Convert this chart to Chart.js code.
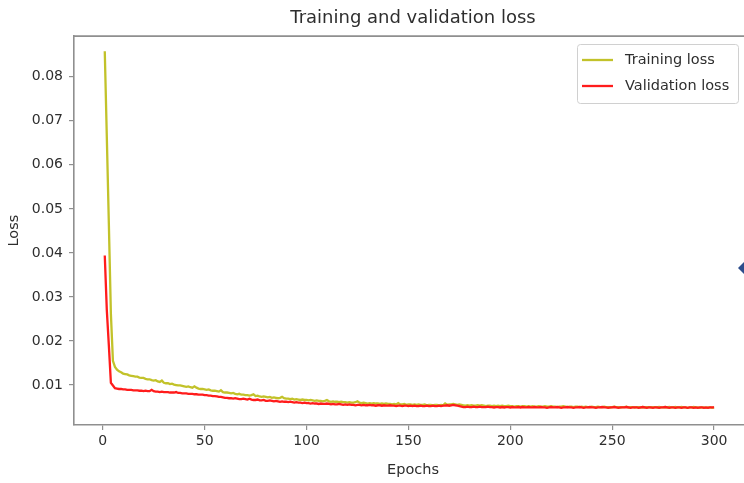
<!DOCTYPE html>
<html>
<head>
<meta charset="utf-8">
<script src="https://cdn.jsdelivr.net/npm/chart.js@4.4.1/dist/chart.umd.min.js"></script>
<style>
  html, body { margin: 0; padding: 0; background: #fff; overflow: hidden; }
  canvas { display: block; }
</style>
</head>
<body>
<canvas id="lossChart" width="760" height="483"></canvas>
<script>
// Số epoch (trục x)
const epochs = Array.from({ length: 300 }, (_, i) => i + 1);

// Training loss (epoch 1..300)
const trainLoss = [
  0.0858, 0.0664, 0.0467, 0.0262, 0.0155, 0.0141, 0.0135, 0.0131, 0.0129, 0.0126,
  0.0125, 0.0124, 0.0122, 0.0121, 0.0120, 0.0119, 0.0119, 0.0117, 0.0116, 0.0116,
  0.0114, 0.0113, 0.0113, 0.0111, 0.0110, 0.0111, 0.0108, 0.0107, 0.0110, 0.0105,
  0.0104, 0.0104, 0.0102, 0.0103, 0.0101, 0.0100, 0.0099, 0.0099, 0.0098, 0.0097,
  0.0096, 0.0097, 0.0095, 0.0094, 0.0097, 0.0094, 0.0092, 0.0091, 0.0091, 0.0090,
  0.0089, 0.0090, 0.0088, 0.0087, 0.0087, 0.0086, 0.0085, 0.0088, 0.0084, 0.0083,
  0.0083, 0.0082, 0.0081, 0.0082, 0.0080, 0.0079, 0.0080, 0.0078, 0.0078, 0.0077,
  0.0077, 0.0076, 0.0077, 0.0079, 0.0075, 0.0076, 0.0074, 0.0073, 0.0074, 0.0073,
  0.0072, 0.0073, 0.0071, 0.0072, 0.0071, 0.0070, 0.0071, 0.0073, 0.0070, 0.0069,
  0.0069, 0.0068, 0.0069, 0.0067, 0.0068, 0.0067, 0.0066, 0.0067, 0.0066, 0.0066,
  0.0065, 0.0066, 0.0065, 0.0064, 0.0065, 0.0064, 0.0064, 0.0063, 0.0064, 0.0066,
  0.0063, 0.0062, 0.0063, 0.0062, 0.0062, 0.0061, 0.0062, 0.0061, 0.0061, 0.0060,
  0.0061, 0.0060, 0.0060, 0.0061, 0.0063, 0.0060, 0.0059, 0.0060, 0.0059, 0.0058,
  0.0059, 0.0058, 0.0059, 0.0058, 0.0058, 0.0057, 0.0058, 0.0057, 0.0058, 0.0057,
  0.0057, 0.0056, 0.0057, 0.0056, 0.0059, 0.0056, 0.0056, 0.0057, 0.0055, 0.0056,
  0.0056, 0.0055, 0.0056, 0.0055, 0.0056, 0.0055, 0.0055, 0.0056, 0.0054, 0.0055,
  0.0055, 0.0054, 0.0055, 0.0055, 0.0054, 0.0055, 0.0054, 0.0058, 0.0055, 0.0056,
  0.0056, 0.0057, 0.0056, 0.0055, 0.0056, 0.0055, 0.0054, 0.0053, 0.0054, 0.0053,
  0.0054, 0.0053, 0.0053, 0.0054, 0.0053, 0.0054, 0.0053, 0.0052, 0.0053, 0.0053,
  0.0052, 0.0053, 0.0052, 0.0053, 0.0052, 0.0053, 0.0052, 0.0052, 0.0053, 0.0052,
  0.0052, 0.0051, 0.0052, 0.0052, 0.0051, 0.0052, 0.0052, 0.0051, 0.0052, 0.0051,
  0.0052, 0.0051, 0.0051, 0.0052, 0.0051, 0.0051, 0.0052, 0.0051, 0.0051, 0.0052,
  0.0051, 0.0051, 0.0050, 0.0051, 0.0051, 0.0052, 0.0051, 0.0050, 0.0051, 0.0051,
  0.0050, 0.0051, 0.0051, 0.0050, 0.0051, 0.0050, 0.0051, 0.0050, 0.0050, 0.0051,
  0.0050, 0.0050, 0.0051, 0.0050, 0.0050, 0.0051, 0.0050, 0.0050, 0.0049, 0.0050,
  0.0051, 0.0050, 0.0050, 0.0049, 0.0050, 0.0050, 0.0051, 0.0049, 0.0050, 0.0050,
  0.0049, 0.0050, 0.0050, 0.0049, 0.0050, 0.0049, 0.0050, 0.0050, 0.0049, 0.0050,
  0.0050, 0.0049, 0.0050, 0.0049, 0.0049, 0.0050, 0.0049, 0.0050, 0.0049, 0.0049,
  0.0050, 0.0049, 0.0049, 0.0050, 0.0049, 0.0049, 0.0048, 0.0049, 0.0049, 0.0050,
  0.0049, 0.0049, 0.0048, 0.0049, 0.0049, 0.0048, 0.0049, 0.0049, 0.0048, 0.0049
];

// Validation loss (epoch 1..300)
const valLoss = [
  0.0394, 0.0270, 0.0190, 0.0105, 0.0099, 0.0093, 0.0092, 0.0091, 0.0091, 0.0090,
  0.0090, 0.0089, 0.0089, 0.0089, 0.0088, 0.0088, 0.0088, 0.0087, 0.0087, 0.0086,
  0.0087, 0.0086, 0.0086, 0.0089, 0.0086, 0.0085, 0.0085, 0.0084, 0.0085, 0.0084,
  0.0084, 0.0084, 0.0083, 0.0083, 0.0083, 0.0084, 0.0082, 0.0082, 0.0081, 0.0081,
  0.0081, 0.0080, 0.0080, 0.0080, 0.0079, 0.0079, 0.0078, 0.0078, 0.0078, 0.0077,
  0.0077, 0.0076, 0.0076, 0.0075, 0.0075, 0.0074, 0.0073, 0.0073, 0.0072, 0.0071,
  0.0071, 0.0070, 0.0070, 0.0069, 0.0070, 0.0069, 0.0068, 0.0068, 0.0069, 0.0068,
  0.0067, 0.0069, 0.0067, 0.0066, 0.0066, 0.0067, 0.0065, 0.0065, 0.0066, 0.0064,
  0.0064, 0.0065, 0.0064, 0.0063, 0.0064, 0.0063, 0.0062, 0.0063, 0.0062, 0.0062,
  0.0061, 0.0062, 0.0061, 0.0060, 0.0061, 0.0060, 0.0060, 0.0059, 0.0060, 0.0059,
  0.0059, 0.0058, 0.0059, 0.0058, 0.0058, 0.0057, 0.0058, 0.0057, 0.0057, 0.0058,
  0.0057, 0.0056, 0.0057, 0.0056, 0.0056, 0.0057, 0.0056, 0.0055, 0.0056, 0.0055,
  0.0056, 0.0055, 0.0055, 0.0054, 0.0055, 0.0055, 0.0054, 0.0055, 0.0054, 0.0054,
  0.0055, 0.0054, 0.0054, 0.0053, 0.0054, 0.0054, 0.0053, 0.0054, 0.0053, 0.0053,
  0.0054, 0.0053, 0.0053, 0.0052, 0.0053, 0.0053, 0.0052, 0.0053, 0.0053, 0.0052,
  0.0053, 0.0052, 0.0053, 0.0052, 0.0052, 0.0053, 0.0052, 0.0052, 0.0053, 0.0052,
  0.0052, 0.0053, 0.0052, 0.0052, 0.0053, 0.0052, 0.0053, 0.0053, 0.0054, 0.0053,
  0.0054, 0.0055, 0.0054, 0.0053, 0.0052, 0.0051, 0.0050, 0.0050, 0.0051, 0.0050,
  0.0050, 0.0051, 0.0050, 0.0050, 0.0051, 0.0050, 0.0050, 0.0050, 0.0051, 0.0050,
  0.0050, 0.0049, 0.0050, 0.0050, 0.0049, 0.0050, 0.0049, 0.0050, 0.0050, 0.0049,
  0.0050, 0.0049, 0.0049, 0.0050, 0.0049, 0.0050, 0.0049, 0.0049, 0.0050, 0.0049,
  0.0049, 0.0050, 0.0049, 0.0049, 0.0050, 0.0049, 0.0049, 0.0048, 0.0049, 0.0050,
  0.0049, 0.0049, 0.0050, 0.0049, 0.0048, 0.0049, 0.0049, 0.0050, 0.0049, 0.0049,
  0.0048, 0.0049, 0.0049, 0.0050, 0.0049, 0.0048, 0.0049, 0.0049, 0.0050, 0.0049,
  0.0049, 0.0048, 0.0049, 0.0049, 0.0050, 0.0049, 0.0049, 0.0048, 0.0049, 0.0049,
  0.0050, 0.0049, 0.0048, 0.0049, 0.0049, 0.0049, 0.0050, 0.0049, 0.0048, 0.0049,
  0.0049, 0.0049, 0.0048, 0.0049, 0.0050, 0.0049, 0.0048, 0.0049, 0.0049, 0.0048,
  0.0049, 0.0049, 0.0048, 0.0049, 0.0049, 0.0050, 0.0049, 0.0048, 0.0049, 0.0049,
  0.0048, 0.0049, 0.0049, 0.0048, 0.0049, 0.0049, 0.0048, 0.0049, 0.0049, 0.0048,
  0.0049, 0.0048, 0.0049, 0.0049, 0.0048, 0.0049, 0.0048, 0.0049, 0.0049, 0.0049
];

// Nhãn trên các trục
const xTickValues = [0, 50, 100, 150, 200, 250, 300];
const yTickValues = [0.01, 0.02, 0.03, 0.04, 0.05, 0.06, 0.07, 0.08];
const seriesNames = ['Training loss', 'Validation loss'];
const seriesColors = ['#c2c22a', '#ff1c1c'];

const FONT = 'DejaVu Sans';
const FRAME = '#8f8f8f';
const TEXT = '#2e2e2e';

// Viền trên + phải của khung đồ thị, chú thích và dấu thoi xanh ở mép phải
const framePlugin = {
    id: 'frame',
    afterDraw(chart) {
        const { ctx, chartArea: a } = chart;
        ctx.save();
        ctx.strokeStyle = FRAME;
        ctx.lineWidth = 1.6;
        ctx.beginPath();
        ctx.moveTo(a.left, a.top);
        ctx.lineTo(a.right, a.top);
        ctx.lineTo(a.right, a.bottom);
        ctx.stroke();

        // khung chú thích
        const bx = 577, by = 44, bw = 161, bh = 59;
        ctx.fillStyle = 'rgba(255,255,255,0.85)';
        ctx.strokeStyle = '#d0d0d0';
        ctx.lineWidth = 1;
        ctx.beginPath();
        ctx.roundRect(bx + 0.5, by + 0.5, bw, bh, 3);
        ctx.fill();
        ctx.stroke();

        ctx.font = '14.5px "' + FONT + '"';
        ctx.textBaseline = 'middle';
        ctx.textAlign = 'left';
        seriesNames.forEach((name, i) => {
            const y = by + 16 + i * 26;
            ctx.strokeStyle = seriesColors[i];
            ctx.lineWidth = 2.3;
            ctx.beginPath();
            ctx.moveTo(bx + 5, y);
            ctx.lineTo(bx + 36, y);
            ctx.stroke();
            ctx.fillStyle = TEXT;
            ctx.fillText(name, bx + 48, y);
        });

        // dấu thoi bị cắt ở mép ảnh
        ctx.fillStyle = '#2d4d8c';
        ctx.beginPath();
        ctx.moveTo(738, 268);
        ctx.lineTo(746, 260);
        ctx.lineTo(754, 268);
        ctx.lineTo(746, 276);
        ctx.closePath();
        ctx.fill();
        ctx.restore();
    }
};

const ctx = document.getElementById('lossChart').getContext('2d');

new Chart(ctx, {
    type: 'line',
    data: {
        datasets: [
            {
                label: seriesNames[0],
                data: trainLoss.map((v, i) => ({ x: epochs[i], y: v })),
                borderColor: seriesColors[0],
                borderWidth: 2.3,
                pointRadius: 0,
                tension: 0,
                order: 1
            },
            {
                label: seriesNames[1],
                data: valLoss.map((v, i) => ({ x: epochs[i], y: v })),
                borderColor: seriesColors[1],
                borderWidth: 2.3,
                pointRadius: 0,
                tension: 0,
                order: 0
            }
        ]
    },
    options: {
        responsive: false,
        animation: false,
        events: [],
        layout: { padding: { left: 0, right: 8, top: 0, bottom: 0 } },
        plugins: {
            legend: { display: false },
            tooltip: { enabled: false },
            title: {
                display: true,
                text: 'Training and validation loss',
                fullSize: false,
                color: TEXT,
                font: { family: FONT, size: 18, weight: 'normal', lineHeight: 1.2 },
                padding: { top: 7.5, bottom: 7 }
            }
        },
        scales: {
            x: {
                type: 'linear',
                min: -14.1,
                max: 318.6,
                afterFit(scale) { scale.height = 58; },
                afterBuildTicks(scale) { scale.ticks = xTickValues.map(v => ({ value: v })); },
                grid: { drawOnChartArea: false, drawTicks: true, tickLength: 5, color: FRAME, lineWidth: 1.2 },
                border: { display: true, color: FRAME, width: 1.6 },
                ticks: {
                    color: TEXT,
                    padding: 3,
                    maxRotation: 0,
                    font: { family: FONT, size: 14 }
                },
                title: {
                    display: true,
                    text: 'Epochs',
                    color: TEXT,
                    font: { family: FONT, size: 14.5 },
                    padding: { top: 0, bottom: 4 }
                }
            },
            y: {
                type: 'linear',
                min: 0.00092,
                max: 0.08924,
                afterFit(scale) { scale.width = 74; },
                afterBuildTicks(scale) { scale.ticks = yTickValues.map(v => ({ value: v })); },
                grid: { drawOnChartArea: false, drawTicks: true, tickLength: 5, color: FRAME, lineWidth: 1.2 },
                border: { display: true, color: FRAME, width: 1.6 },
                ticks: {
                    color: TEXT,
                    padding: 6,
                    font: { family: FONT, size: 14 },
                    callback: v => v.toFixed(2)
                },
                title: {
                    display: true,
                    text: 'Loss',
                    color: TEXT,
                    font: { family: FONT, size: 14.5 },
                    padding: { top: 6, bottom: 0 }
                }
            }
        }
    },
    plugins: [framePlugin]
});
</script>
</body>
</html>
